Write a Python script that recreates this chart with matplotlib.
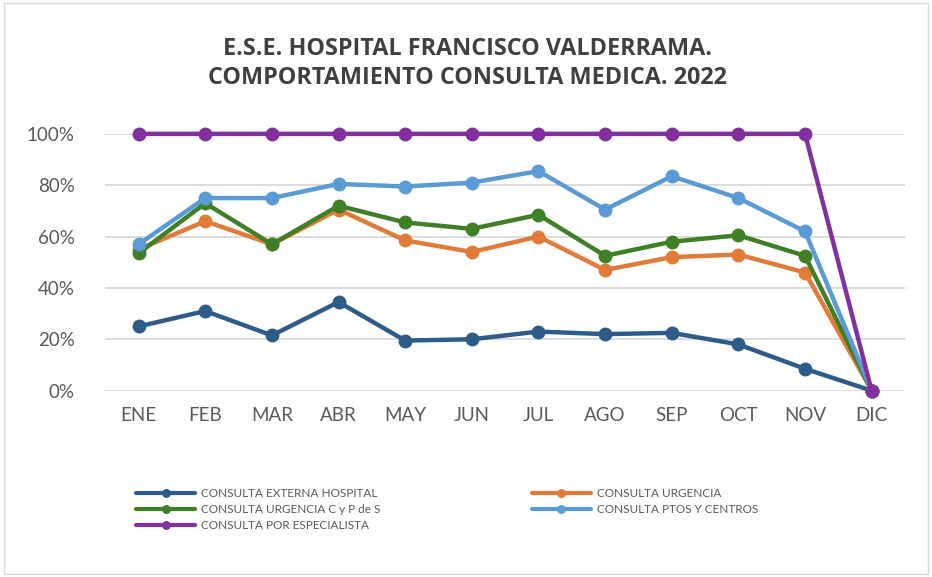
import matplotlib.pyplot as plt
from matplotlib.ticker import PercentFormatter

meses = ["ENE", "FEB", "MAR", "ABR", "MAY", "JUN", "JUL", "AGO", "SEP", "OCT", "NOV", "DIC"]

externa = [25, 31, 21.5, 34.5, 19.5, 20, 23, 22, 22.5, 18, 8.5, 0]
urgencia = [55, 66, 57, 70.5, 58.5, 54, 60, 47, 52, 53, 46, 0]
urgencia_cyp = [53.5, 73, 57, 72, 65.5, 63, 68.5, 52.5, 58, 60.5, 52.5, 0]
ptos_centros = [57, 75, 75, 80.5, 79.5, 81, 85.5, 70.5, 83.5, 75, 62, 0]
especialista = [100, 100, 100, 100, 100, 100, 100, 100, 100, 100, 100, 0]

series = [
    ("CONSULTA EXTERNA HOSPITAL", externa, "#2E5C8A"),
    ("CONSULTA URGENCIA", urgencia, "#E07B39"),
    ("CONSULTA URGENCIA C y P de S", urgencia_cyp, "#3F7F26"),
    ("CONSULTA PTOS Y CENTROS", ptos_centros, "#5B9BD5"),
    ("CONSULTA POR ESPECIALISTA", especialista, "#82309F"),
]

plt.rcParams['font.family'] = ['Lato', 'DejaVu Sans']

fig = plt.figure(figsize=(9.32, 5.77), dpi=100)
ax = fig.add_axes([0.113, 0.323, 0.858, 0.445])

lines = {}
for name, vals, col in series:
    ln, = ax.plot(meses, vals, color=col, lw=3.2, marker="o", ms=9,
                  solid_capstyle="round", label=name, clip_on=False)
    lines[name] = ln

ax.set_ylim(0, 100)
ax.set_xlim(-0.5, 11.5)
ax.set_yticks(range(0, 101, 20))
ax.yaxis.set_major_formatter(PercentFormatter(decimals=0))
ax.grid(axis="y", color="#D9D9D9", lw=1.3)
ax.set_axisbelow(True)
for s in ax.spines.values():
    s.set_visible(False)
ax.tick_params(length=0, labelsize=13.5, colors="#595959", pad=12)
ax.tick_params(axis="y", pad=22)

fig.text(0.502, 0.89, "E.S.E. HOSPITAL FRANCISCO VALDERRAMA.\nCOMPORTAMIENTO CONSULTA MEDICA. 2022",
         ha="center", va="center", fontsize=16.8, fontweight="bold", color="#404040",
         linespacing=1.3, family=["Open Sans", "DejaVu Sans"])

orden = ["CONSULTA EXTERNA HOSPITAL", "CONSULTA URGENCIA C y P de S", "CONSULTA POR ESPECIALISTA",
         "CONSULTA URGENCIA", "CONSULTA PTOS Y CENTROS"]
leg = fig.legend([lines[n] for n in orden], orden, ncol=2, loc="upper left",
                 bbox_to_anchor=(0.135, 0.172), frameon=False, fontsize=8.5,
                 handlelength=5, columnspacing=12.8, labelspacing=0.42,
                 markerscale=0.6, handletextpad=0.5)
for t in leg.get_texts():
    t.set_color("#595959")
for h in leg.legend_handles:
    h.set_linewidth(3)

border = plt.Rectangle((0.004, 0.006), 0.992, 0.988, transform=fig.transFigure,
                       fill=False, ec="#D9D9D9", lw=1)
fig.patches.append(border)

fig.savefig("out.png", dpi=100)
